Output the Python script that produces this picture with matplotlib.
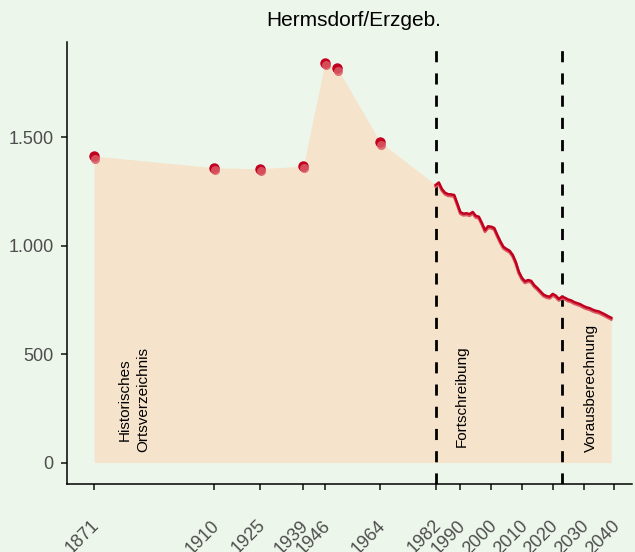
import matplotlib
matplotlib.use("Agg")
import matplotlib.pyplot as plt
import matplotlib.transforms as mtransforms
import numpy as np

plt.rcParams['font.family'] = ['Liberation Sans', 'DejaVu Sans']

# historical census points (Historisches Ortsverzeichnis)
hist_years = [1871, 1910, 1925, 1939, 1946, 1950, 1964]
hist_pop = [1414, 1360, 1355, 1368, 1845, 1820, 1478]

# annual updates (Fortschreibung)
fort_years = list(range(1982, 2023))
fort_pop = [1281, 1292, 1262, 1245, 1238, 1237, 1234, 1195, 1155, 1148,
            1150, 1146, 1156, 1138, 1134, 1105, 1072, 1090, 1088, 1082,
            1050, 1020, 995, 985, 977, 958, 925, 880, 852, 836,
            842, 838, 818, 805, 790, 775, 768, 765, 778, 770,
            755]

# projection (Vorausberechnung)
proj_years = list(range(2023, 2040))
proj_pop = [765, 760, 752, 748, 740, 735, 730, 722, 716, 712,
            705, 700, 697, 690, 683, 675, 668]

tick_years = [1871, 1910, 1925, 1939, 1946, 1964, 1982, 1990, 2000, 2010,
              2020, 2030, 2040]
y_ticks = [0, 500, 1000, 1500]
y_labels = ["0", "500", "1.000", "1.500"]
breaks = [1982, 2023]

bg = '#EDF6EB'
fill_col = '#F5E3CC'
dark_red = '#C0001E'
light_red = '#DA5A64'

fig = plt.figure(figsize=(6.35, 5.52), dpi=100, facecolor=bg)
ax = fig.add_axes([0.1055, 0.1232, 0.89, 0.8007])
ax.set_facecolor(bg)

all_years = hist_years + fort_years + proj_years
all_pop = hist_pop + fort_pop + proj_pop
ax.fill_between(all_years, 0, all_pop, color=fill_col, lw=0, zorder=1)

for b in breaks:
    ax.axvline(b, color='black', ls=(0, (4, 4)), lw=2, zorder=2)

# lighter copy shifted down a little, dark line/points on top
shift = mtransforms.offset_copy(ax.transData, fig=fig, x=0, y=-1.5, units='dots')
line_years = fort_years + proj_years
line_pop = fort_pop + proj_pop
ax.plot(line_years, line_pop, color=light_red, lw=2.2, transform=shift, zorder=3)
ax.plot(line_years, line_pop, color=dark_red, lw=1.8, zorder=4)
ax.plot(hist_years, hist_pop, 'o', color=dark_red, ms=7.5, mew=0, zorder=5)
ax.plot(hist_years, hist_pop, 'o', color=light_red, ms=6.5, mew=0, alpha=0.85,
        transform=mtransforms.offset_copy(ax.transData, fig=fig, x=1, y=-2.5, units='dots'),
        zorder=6)

ax.text(1884, 50, "Historisches\nOrtsverzeichnis", rotation=90, ha='center',
        va='bottom', fontsize=11, linespacing=1.4)
ax.text(1990.6, 70, "Fortschreibung", rotation=90, ha='center', va='bottom',
        fontsize=11)
ax.text(2032.4, 50, "Vorausberechnung", rotation=90, ha='center', va='bottom',
        fontsize=11)

ax.set_xlim(1862.2, 2045.8)
ax.set_ylim(-99, 1940)
ax.set_xticks(tick_years)
ax.set_xticklabels([str(t) for t in tick_years], rotation=45, ha='right',
                   va='center', rotation_mode='anchor')
ax.set_yticks(y_ticks)
ax.set_yticklabels(y_labels)
ax.tick_params(axis='x', length=4.5, width=1.3, color='#333333',
               labelcolor='#4D4D4D', labelsize=13, pad=23.5)
ax.tick_params(axis='y', length=4.5, width=1.3, color='#333333',
               labelcolor='#4D4D4D', labelsize=13, pad=5)
nudge = mtransforms.ScaledTranslation(3 / 100, 0, fig.dpi_scale_trans)
for lab in ax.get_xticklabels():
    lab.set_transform(lab.get_transform() + nudge)

for s in ['top', 'right']:
    ax.spines[s].set_visible(False)
for s in ['left', 'bottom']:
    ax.spines[s].set_linewidth(1.1)
    ax.spines[s].set_color('black')

fig.text(0.557, 0.962, "Hermsdorf/Erzgeb.", ha='center', va='center',
         fontsize=15, color='black')

fig.savefig("out.png", dpi=100, facecolor=bg)
